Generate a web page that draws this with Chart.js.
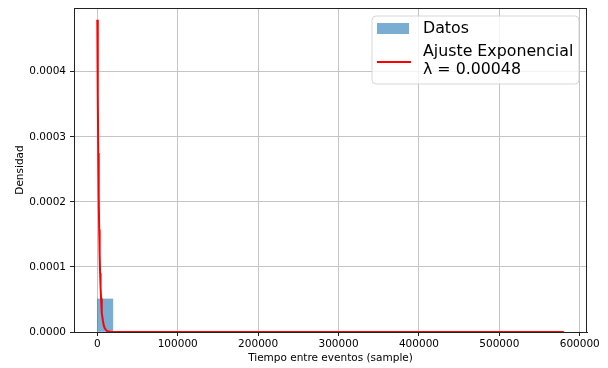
<!DOCTYPE html>
<html>
<head>
<meta charset="utf-8">
<script src="https://cdn.jsdelivr.net/npm/chart.js@4/dist/chart.umd.min.js"></script>
<style>
  html, body { margin: 0; padding: 0; background: #fff; }
  #wrap { width: 608px; height: 368px; }
</style>
</head>
<body>
<div id="wrap"><canvas id="c" width="608" height="368"></canvas></div>
<script>
// Histogram of inter-event times (density), 30 bins over 0..580000 samples
const binCenters = [
  9667, 29000, 48333, 67667, 87000, 106333, 125667, 145000, 164333, 183667,
  203000, 222333, 241667, 261000, 280333, 299667, 319000, 338333, 357667, 377000,
  396333, 415667, 435000, 454333, 473667, 493000, 512333, 531667, 551000, 570333
];
const binDensity = [
  5.08e-5, 3.1e-7, 1.2e-7, 6e-8, 4e-8, 2e-8, 2e-8, 1e-8, 1e-8, 0,
  1e-8, 0, 0, 1e-8, 0, 0, 0, 0, 1e-8, 0,
  0, 0, 0, 0, 0, 0, 0, 0, 0, 1e-8
];

// Fitted exponential rate
const lambda = 0.00048;
const fitX = [
  0, 580, 1160, 1740, 2320, 2900, 3480, 4060, 4640, 5220, 5800, 6960, 8120,
  9280, 11600, 13920, 17400, 23200, 34800, 58000, 116000, 232000, 348000,
  464000, 580000
];
const fitPoints = fitX.map(x => ({ x: x, y: lambda * Math.exp(-lambda * x) }));

const xTicks = [0, 100000, 200000, 300000, 400000, 500000, 600000];
const yTicks = [0, 0.0001, 0.0002, 0.0003, 0.0004];

const FONT = "'DejaVu Sans', sans-serif";

// Frame around the plotting area plus the inset legend
const framePlugin = {
  id: 'frame',
  afterDraw(chart) {
    const ctx = chart.ctx;
    const a = chart.chartArea;
    ctx.save();
    ctx.strokeStyle = '#222';
    ctx.lineWidth = 1;
    ctx.strokeRect(a.left + 0.5, a.top + 0.5, a.right - a.left - 1, a.bottom - a.top);

    // legend box
    const bx = a.right - 215, by = a.top + 8, bw = 207, bh = 68, r = 4;
    ctx.beginPath();
    ctx.moveTo(bx + r, by);
    ctx.arcTo(bx + bw, by, bx + bw, by + bh, r);
    ctx.arcTo(bx + bw, by + bh, bx, by + bh, r);
    ctx.arcTo(bx, by + bh, bx, by, r);
    ctx.arcTo(bx, by, bx + bw, by, r);
    ctx.closePath();
    ctx.fillStyle = 'rgba(255,255,255,0.8)';
    ctx.fill();
    ctx.strokeStyle = 'rgba(204,204,204,0.8)';
    ctx.stroke();

    ctx.fillStyle = 'rgba(31,119,180,0.6)';
    ctx.fillRect(bx + 5, by + 7, 32, 11);

    ctx.strokeStyle = '#ff0000';
    ctx.lineWidth = 2;
    ctx.beginPath();
    ctx.moveTo(bx + 5, by + 46);
    ctx.lineTo(bx + 39, by + 46);
    ctx.stroke();

    ctx.fillStyle = '#000';
    ctx.font = '15.8px ' + FONT;
    ctx.textBaseline = 'middle';
    ctx.textAlign = 'left';
    ctx.fillText('Datos', bx + 51, by + 13);
    ctx.fillText('Ajuste Exponencial', bx + 51, by + 36);
    ctx.fillText('\u03bb = 0.00048', bx + 51, by + 54);
    ctx.restore();
  }
};

new Chart(document.getElementById('c'), {
  data: {
    datasets: [
      {
        type: 'bar',
        label: 'Datos',
        data: binCenters.map((x, i) => ({ x: x, y: binDensity[i] })),
        backgroundColor: 'rgba(31,119,180,0.6)',
        borderWidth: 0,
        barPercentage: 1.0,
        categoryPercentage: 1.0,
        order: 2
      },
      {
        type: 'line',
        label: 'Ajuste Exponencial',
        data: fitPoints,
        borderColor: '#ff0000',
        borderWidth: 2,
        pointRadius: 0,
        fill: false,
        tension: 0,
        order: 1
      }
    ]
  },
  options: {
    responsive: false,
    animation: false,
    devicePixelRatio: 1,
    layout: { padding: { left: 0, right: 21, top: 8, bottom: 0 } },
    plugins: { legend: { display: false }, tooltip: { enabled: false } },
    scales: {
      x: {
        type: 'linear',
        min: -29000,
        max: 609000,
        offset: false,
        afterBuildTicks(s) { s.ticks = xTicks.map(v => ({ value: v })); },
        afterFit(s) { s.height = 36; },
        grid: { offset: false, color: '#c4c4c4', lineWidth: 1, tickColor: '#222', tickLength: 4 },
        border: { color: '#222', width: 1 },
        ticks: { color: '#000', font: { family: FONT, size: 10.5 }, padding: 2, maxRotation: 0,
                 callback: v => String(v) },
        title: { display: true, text: 'Tiempo entre eventos (sample)', color: '#000',
                 font: { family: FONT, size: 10.5 }, padding: { top: 0, bottom: 3 } }
      },
      y: {
        type: 'linear',
        min: 0,
        max: 0.000498,
        afterBuildTicks(s) { s.ticks = yTicks.map(v => ({ value: v })); },
        afterFit(s) { s.width = 74; s.paddingTop = 0; s.paddingBottom = 0; },
        grid: { color: '#c4c4c4', lineWidth: 1, tickColor: '#222', tickLength: 4 },
        border: { color: '#222', width: 1 },
        ticks: { color: '#000', font: { family: FONT, size: 10.5 }, padding: 4,
                 callback: v => v.toFixed(4) },
        title: { display: true, text: 'Densidad', color: '#000',
                 font: { family: FONT, size: 10.5 }, padding: { top: 14, bottom: 0 } }
      }
    }
  },
  plugins: [framePlugin]
});
</script>
</body>
</html>
